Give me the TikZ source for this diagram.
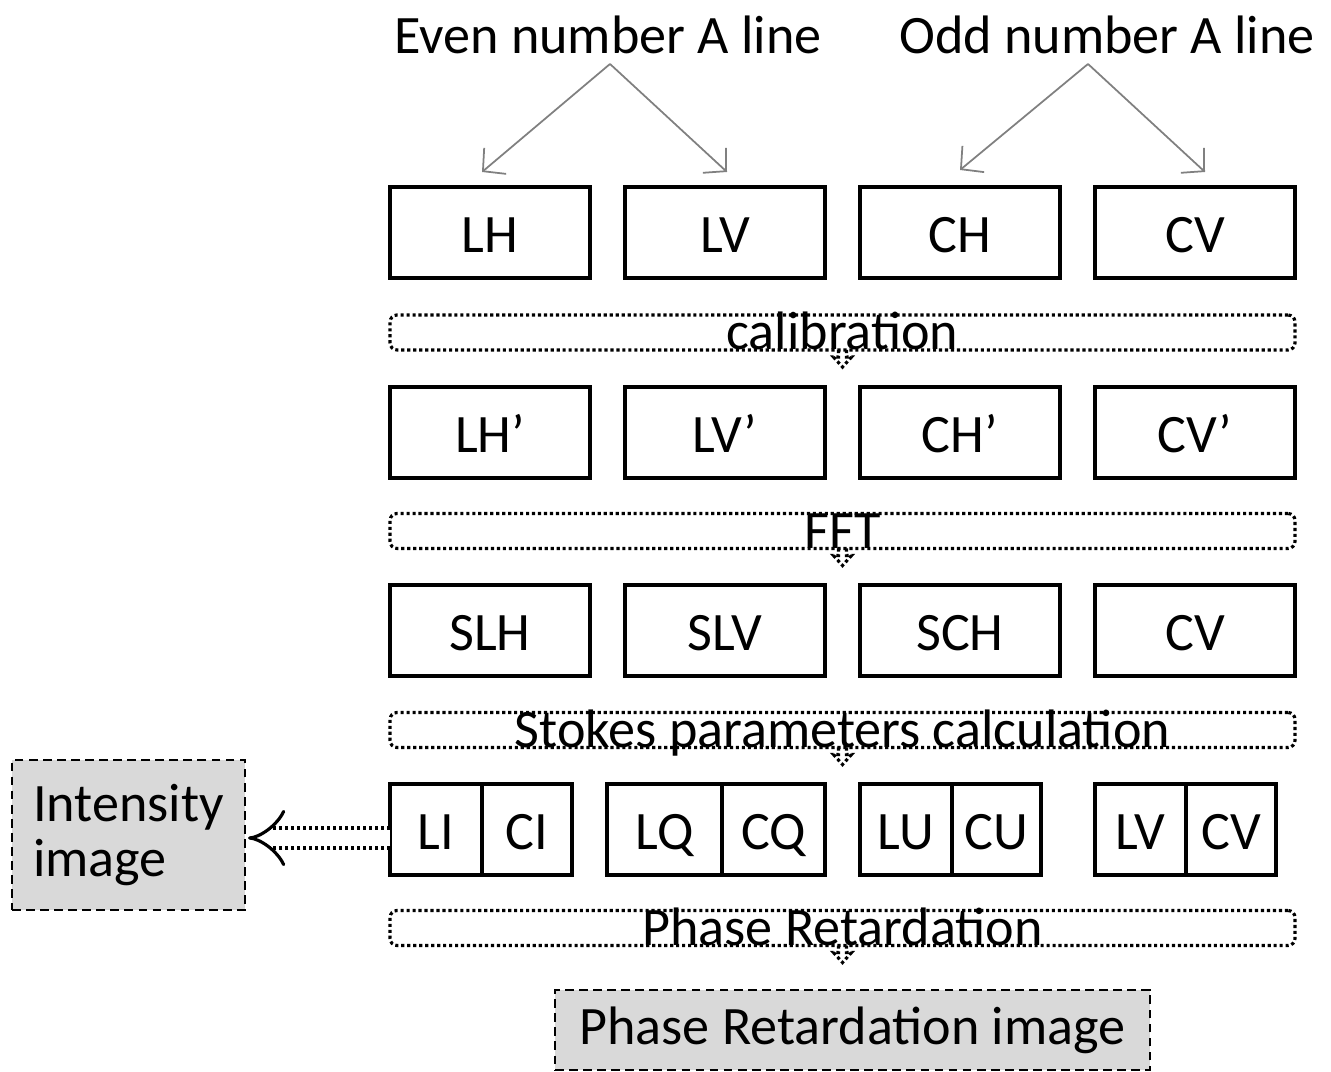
\documentclass[tikz,border=0pt]{standalone}
\usepackage{fontspec}
\setmainfont{Carlito}
\usetikzlibrary{positioning, arrows.meta, calc}
\definecolor{imggray}{gray}{0.85}
\definecolor{feedgray}{gray}{0.5}

\begin{document}
\begin{tikzpicture}[
    every node/.style={font=\fontsize{15.4}{15.6}\selectfont, align=center, inner sep=0pt, outer sep=0pt},
    chan/.style  ={draw, line width=1.1pt, minimum width=20mm, minimum height=9.1mm, text height=11.3pt, text depth=0pt},
    half/.style  ={draw, line width=1.1pt, minimum height=9.1mm, text height=11.3pt, text depth=0pt},
    stage/.style ={draw, dash pattern=on 0.9pt off 0.8pt, line width=0.9pt, rounded corners=2pt, minimum width=90.5mm, minimum height=3.5mm},
    nib/.style   ={dash pattern=on 0.9pt off 0.8pt, line width=0.9pt},
    result/.style={draw, fill=imggray, dash pattern=on 2.5pt off 1.5pt, line width=0.6pt},
    feed/.style  ={-{Straight Barb[length=1.6mm, width=3.4mm]}, draw=feedgray, line width=0.5pt},
    pull/.style  ={-{Implies[length=1.3mm, width=3.4mm]}, double, double distance=4.8pt, line width=0.9pt, dash pattern=on 0.9pt off 0.8pt},
    node distance=3.5mm
]
\useasboundingbox (0,0) rectangle (13.31,-10.72);
% Headings
\node (even) at (6.08,-0.35) {Even number A line};
\node (odd)  at (11.07,-0.35) {Odd number A line};
\coordinate (evenfork) at ([shift={(0.02,-0.1)}]even.south);
\coordinate (oddfork)  at ([shift={(-0.19,-0.1)}]odd.south);
% Row 1 -- raw channels
\node[chan] (lh) at (4.90,-2.325) {LH};
\node[chan, right=of lh] (lv) {LV};
\node[chan, right=of lv] (ch) {CH};
\node[chan, right=of ch] (cv) {CV};
% Row 2 -- calibrated
\node[chan] (lhp) at (4.90,-4.325) {LH’};
\node[chan, right=of lhp] (lvp) {LV’};
\node[chan, right=of lvp] (chp) {CH’};
\node[chan, right=of chp] (cvp) {CV’};
% Row 3 -- spectra
\node[chan] (slh) at (4.90,-6.305) {SLH};
\node[chan, right=of slh] (slv) {SLV};
\node[chan, right=of slv] (sch) {SCH};
\node[chan, right=of sch] (scv) {CV};
% Row 4 -- Stokes pairs
\node[half, minimum width=9.2mm] (li) at (4.36,-8.295) {LI};
\node[half, minimum width=9.0mm, right=0pt of li]    (ci)  {CI};
\node[half, minimum width=11.5mm, right=3.5mm of ci] (lq)  {LQ};
\node[half, minimum width=10.3mm, right=0pt of lq]   (cq)  {CQ};
\node[half, minimum width=9.2mm, right=3.5mm of cq]  (lu)  {LU};
\node[half, minimum width=8.9mm, right=0pt of lu]    (cu)  {CU};
\node[half, minimum width=9.1mm, right=5.4mm of cu]  (lvv) {LV};
\node[half, minimum width=9.0mm, right=0pt of lvv]   (cvv) {CV};
% Processing stages
\node[stage, label={[anchor=base]south:calibration}] (calib) at (8.425,-3.325) {};
\node[stage, label={[anchor=base]south:FFT}] (fft) at (8.425,-5.31) {};
\node[stage, label={[anchor=base]south:Stokes parameters calculation}] (stokes) at (8.425,-7.30) {};
\node[stage, label={[anchor=base]south:Phase Retardation}] (phase) at (8.425,-9.28) {};
\foreach \b in {calib, fft, stokes, phase}
  \draw[nib] (\b.south) ++(-0.04,0) -- ++(0,-0.07) -- ++(-0.05,0) -- ++(0.09,-0.1) -- ++(0.09,0.1) -- ++(-0.05,0) -- ++(0,0.07);
% Outputs
\node[result, minimum width=23.3mm, minimum height=15mm, align=left] (intens) at (1.285,-8.35) {Intensity\\image};
\node[result, minimum width=59.5mm, minimum height=8.0mm] (phimg) at (8.525,-10.30) {Phase Retardation image};
% Arrows
\draw[feed] (evenfork) -- ([shift={(-0.08,0.15)}]lh.north);
\draw[feed] (evenfork) -- ([shift={(0.02,0.15)}]lv.north);
\draw[feed] (oddfork)  -- ([shift={(0,0.17)}]ch.north);
\draw[feed] (oddfork)  -- ([shift={(0.10,0.15)}]cv.north);
\draw[pull] ([yshift=-0.03cm]li.west |- intens.east) -- ([shift={(0.03,-0.03)}]intens.east);
\end{tikzpicture}
\end{document}
